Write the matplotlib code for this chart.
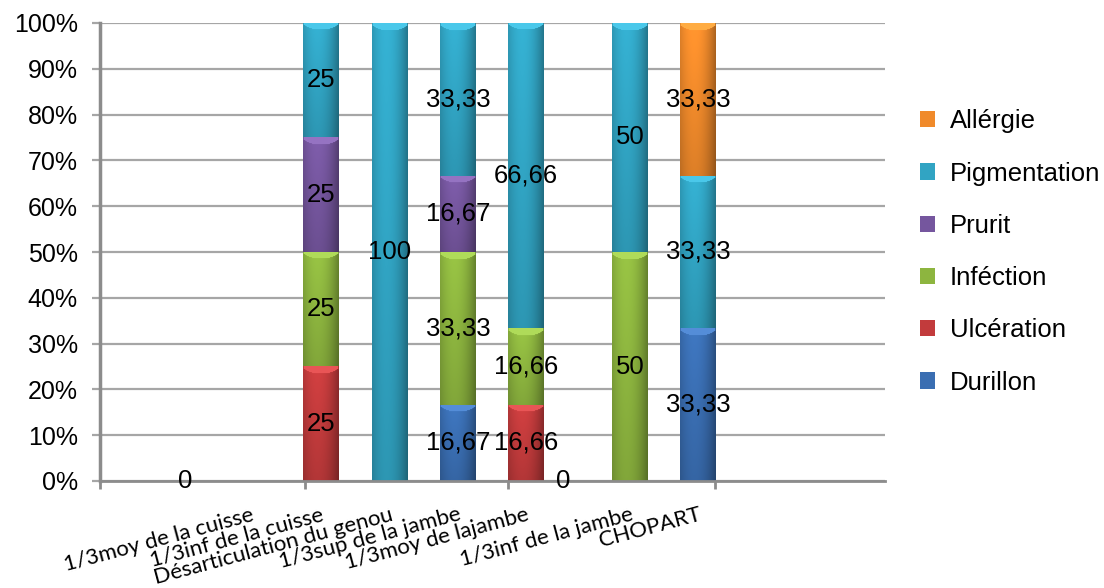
import numpy as np
import matplotlib
matplotlib.use("Agg")
import matplotlib.pyplot as plt
import matplotlib.colors as mcolors
from matplotlib.patches import Patch

# categories (x axis) and series, stacked bottom -> top
categories = ["1/3moy de la cuisse", "1/3inf de la cuisse", "Désarticulation du genou",
              "1/3sup de la jambe", "1/3moy de lajambe", "1/3inf de la jambe", "CHOPART"]
series = ["Durillon", "Ulcération", "Inféction", "Prurit", "Pigmentation", "Allérgie"]

durillon     = [0, 0,  0,   16.67, 0,     0,  33.33]
ulceration   = [0, 25, 0,   0,     16.66, 0,  0]
infection    = [0, 25, 0,   33.33, 16.66, 50, 0]
prurit       = [0, 25, 0,   16.67, 0,     0,  0]
pigmentation = [0, 25, 100, 33.33, 66.66, 50, 33.33]
allergie     = [0, 0,  0,   0,     0,     0,  33.33]
values = [durillon, ulceration, infection, prurit, pigmentation, allergie]

colors = ["#3a6eb2", "#c23b3c", "#8db53f", "#75569e", "#31a4c3", "#f08a2b"]

# layout (axis units follow the original pixel grid)
cat_pos = [251, 321, 390, 458, 526, 630, 698]
sep_ticks = [100, 305, 508, 715]
zero_label_pos = [185, 563]
bar_w = 36
px_per_unit = 4.58


def draw_segment(ax, xc, y0, h, color):
    rgb = np.array(mcolors.to_rgb(color))
    nx = 48
    ny = max(int(h * px_per_unit), 2)
    u = np.linspace(-1, 1, nx)
    horiz = 1.07 - 0.36 * ((u + 0.2) / 1.2) ** 2
    t = np.arange(ny)
    vert = 1.02 - 0.16 * (t / ny)
    shade = vert[:, None] * horiz[None, :]
    img = np.clip(rgb[None, None, :] * shade[..., None], 0, 1)
    depth = 7 * np.sqrt(np.clip(1 - u ** 2, 0, 1))
    mask = t[:, None] < depth[None, :]
    light = np.clip(rgb * 1.1 + 0.08, 0, 1)
    img[mask] = light
    ax.imshow(img, extent=(xc - bar_w / 2, xc + bar_w / 2, y0, y0 + h),
              aspect="auto", interpolation="bilinear", zorder=2)


def fmt(v):
    if float(v).is_integer():
        return str(int(v))
    return f"{v:.2f}".replace(".", ",")


fig = plt.figure(figsize=(11.04, 5.88), dpi=100)
ax = fig.add_axes([100 / 1104, 107 / 588, 785 / 1104, 458 / 588])

num_font = ["Liberation Sans", "DejaVu Sans"]

for i, xc in enumerate(cat_pos):
    total = sum(s[i] for s in values)
    if total == 0:
        continue
    bottom = 0.0
    for s, col in zip(values, colors):
        v = s[i]
        if v <= 0:
            continue
        h = v / total * 100
        draw_segment(ax, xc, bottom, h, col)
        ax.text(xc, bottom + h / 2, fmt(v), ha="center", va="center",
                fontsize=18.5, family=num_font, zorder=5)
        bottom += h

for x in zero_label_pos:
    ax.text(x, 0, "0", ha="center", va="center", fontsize=18.5, family=num_font, zorder=5)

ax.set_xlim(100, 885)
ax.set_ylim(0, 100)

ax.set_yticks(np.arange(0, 101, 10))
ax.set_yticklabels([f"{v}%" for v in range(0, 101, 10)], fontsize=18, family=num_font)
ax.yaxis.grid(True, color="#a6a6a6", lw=1.6, zorder=0)
ax.set_axisbelow(True)

ax.set_xticks(sep_ticks)
ax.set_xticklabels([])
ax.set_xticks(cat_pos, minor=True)
ax.set_xticklabels(categories, minor=True, rotation=15, ha="right", va="top",
                   rotation_mode="anchor", fontsize=16, family=["Lato", "DejaVu Sans"])
ax.tick_params(axis="x", which="minor", length=0, pad=17)
ax.tick_params(axis="x", which="major", length=6, width=2, color="#8c8c8c")
ax.tick_params(axis="y", length=6, width=1.6, color="#a6a6a6", pad=10)

for side in ["top", "right"]:
    ax.spines[side].set_visible(False)
ax.spines["left"].set_color("#8c8c8c")
ax.spines["left"].set_linewidth(2.5)
ax.spines["bottom"].set_color("#8c8c8c")
ax.spines["bottom"].set_linewidth(2)

handles = [Patch(facecolor=c, edgecolor="none") for c in colors]
leg = fig.legend(handles[::-1], series[::-1], loc="center left",
                 bbox_to_anchor=(920 / 1104, 1 - 252 / 588), frameon=False,
                 prop={"family": num_font, "size": 18.5}, handlelength=0.6,
                 handleheight=0.6, handletextpad=0.55, labelspacing=1.1,
                 borderpad=0, borderaxespad=0)

fig.savefig("out.png", dpi=100)
